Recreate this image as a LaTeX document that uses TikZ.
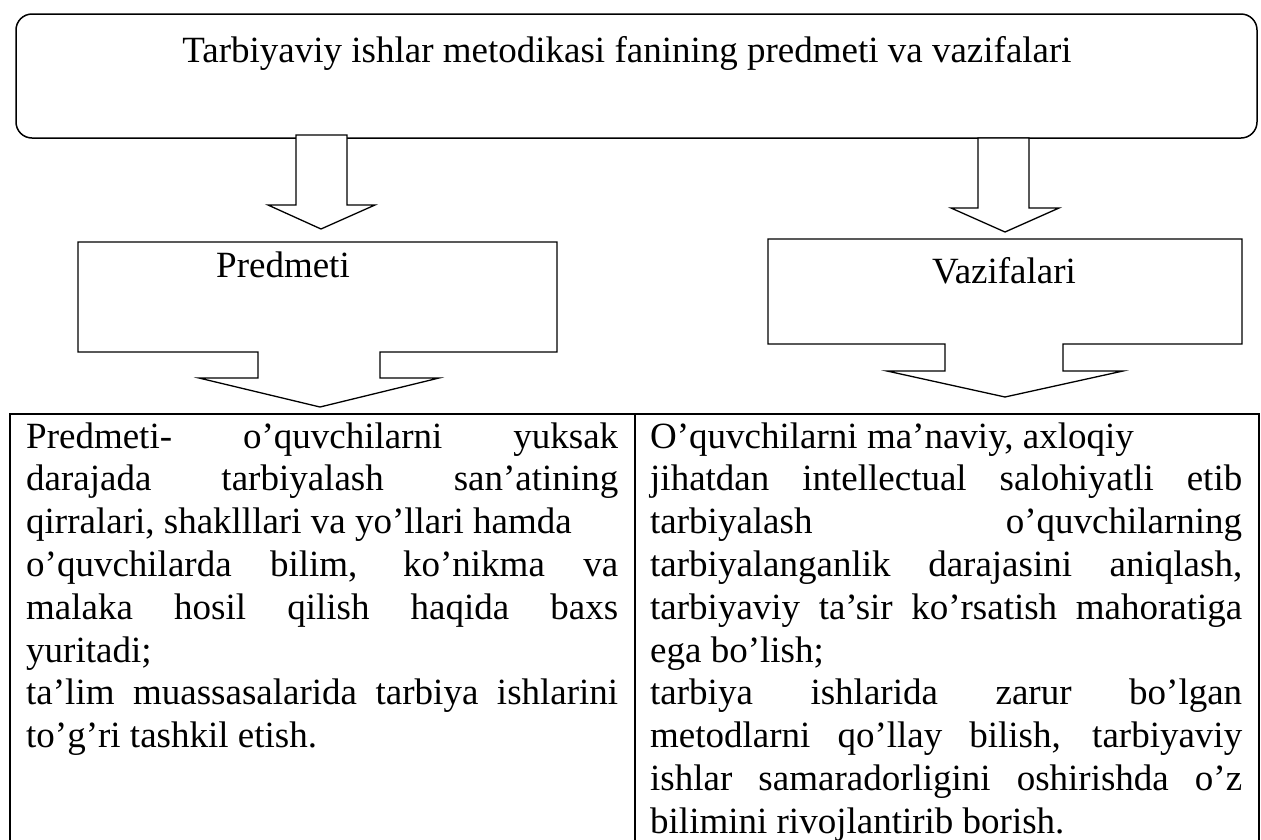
\documentclass[tikz,border=0pt]{standalone}
\usepackage{fontspec}
\setmainfont{Liberation Serif}
\newcommand\jline[1]{\makebox[592pt][s]{#1}}
\begin{document}
\begin{tikzpicture}[x=1pt,y=-1pt,
  txt/.style={anchor=base west,inner sep=0pt,font=\fontsize{37}{42.8}\selectfont},
  lbl/.style={anchor=base,inner sep=0pt,font=\fontsize{37}{42.8}\selectfont},
  blk/.style={draw=black,line width=1.3pt,fill=white,line join=miter},
  tbl/.style={draw=black,line width=2.6pt},
]
\useasboundingbox (0,0) rectangle (1261,839);
\clip (0,0) rectangle (1261,839);
% title box
\draw[line width=1.5pt,rounded corners=16pt] (16,14) rectangle (1257,138);
\node[lbl] (title) at (627,62) {Tarbiyaviy ishlar metodikasi fanining predmeti va vazifalari};
% down arrows from title
\draw[blk] (296,135) -- (296,205) -- (268,205) -- (321,229) -- (375,205) -- (347,205) -- (347,135) -- cycle;
\draw[blk] (978,138) -- (978,208) -- (951,208) -- (1005,232) -- (1059,208) -- (1029,208) -- (1029,138) -- cycle;
% callout Predmeti
\draw[blk] (78,242) -- (557,242) -- (557,352) -- (380,352) -- (380,378) -- (439,378) -- (320,407) -- (199,378) -- (258,378) -- (258,352) -- (78,352) -- cycle;
\node[lbl] (pred) at (283,277) {Predmeti};
% callout Vazifalari
\draw[blk] (768,239) -- (1242,239) -- (1242,344) -- (1063,344) -- (1063,371) -- (1123,371) -- (1005,397) -- (887,371) -- (945,371) -- (945,344) -- (768,344) -- cycle;
\node[lbl] (vaz) at (1004,283) {Vazifalari};
% table
\draw[tbl] (10,414) rectangle (1259,860);
\draw[tbl] (635,414) -- (635,860);
% left column
\node[txt] (l1) at (26,448) {\jline{Predmeti- o’quvchilarni yuksak}};
\node[txt] (l2) at (26,490.8) {\jline{darajada tarbiyalash san’atining}};
\node[txt] (l3) at (26,533.6) {qirralari, shaklllari va yo’llari hamda};
\node[txt] (l4) at (26,576.4) {\jline{o’quvchilarda bilim, ko’nikma va}};
\node[txt] (l5) at (26,619.2) {\jline{malaka hosil qilish haqida baxs}};
\node[txt] (l6) at (26,662) {yuritadi;};
\node[txt] (l7) at (26,704.8) {\jline{ta’lim muassasalarida tarbiya ishlarini}};
\node[txt] (l8) at (26,747.6) {to’g’ri tashkil etish.};
% right column
\node[txt] (r1) at (650,448) {O’quvchilarni ma’naviy, axloqiy};
\node[txt] (r2) at (650,490.8) {\jline{jihatdan intellectual salohiyatli etib}};
\node[txt] (r3) at (650,533.6) {\jline{tarbiyalash o’quvchilarning}};
\node[txt] (r4) at (650,576.4) {\jline{tarbiyalanganlik darajasini aniqlash,}};
\node[txt] (r5) at (650,619.2) {\jline{tarbiyaviy ta’sir ko’rsatish mahoratiga}};
\node[txt] (r6) at (650,662) {ega bo’lish;};
\node[txt] (r7) at (650,704.8) {\jline{tarbiya ishlarida zarur bo’lgan}};
\node[txt] (r8) at (650,747.6) {\jline{metodlarni qo’llay bilish, tarbiyaviy}};
\node[txt] (r9) at (650,790.4) {\jline{ishlar samaradorligini oshirishda o’z}};
\node[txt] (r10) at (650,833.2) {bilimini rivojlantirib borish.};
\end{tikzpicture}
\end{document}
